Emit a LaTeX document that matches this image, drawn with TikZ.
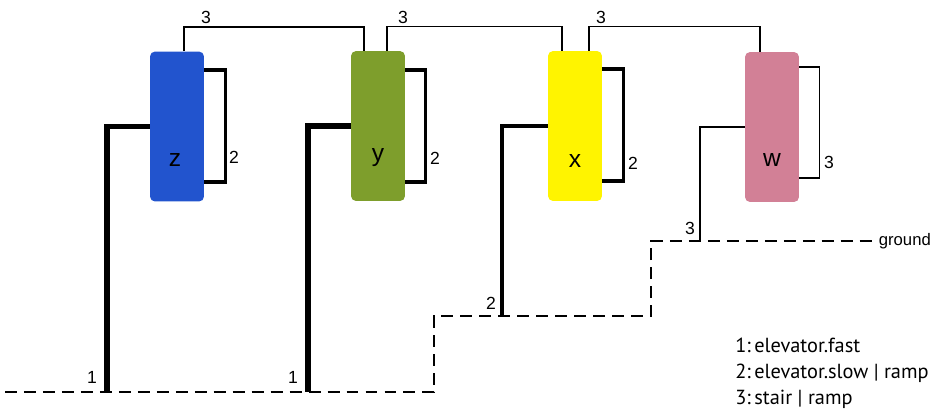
\documentclass[tikz,border=0pt]{standalone}
\usepackage{fontspec}
\setmainfont{Liberation Sans}
\newfontfamily\legendfont{PT Sans}
\definecolor{zblue}{RGB}{34,84,206}
\definecolor{ygreen}{RGB}{126,158,44}
\definecolor{xyellow}{RGB}{255,244,0}
\definecolor{wpink}{RGB}{210,128,150}
\begin{document}
\begin{tikzpicture}[
  x=0.02cm, y=-0.02cm,
  box/.style={
    rounded corners=0.1cm,
    minimum width=1.08cm,
    minimum height=3cm,
    inner sep=0pt
  },
  boxtext/.style={font=\fontsize{14}{14}\selectfont, inner sep=0pt},
  num/.style={font=\fontsize{10}{10}\selectfont, inner sep=0pt},
  fastline/.style={line width=3pt},
  slowline/.style={line width=2pt},
  stairline/.style={line width=0.8pt},
  groundline/.style={line width=1.1pt, dash pattern=on 6.8pt off 4pt}
]
\useasboundingbox (0,0) rectangle (938,414);

% floors
\node[box, fill=zblue] (z) at (177,126.5) {};
\node[box, fill=ygreen] (y) at (378,126) {};
\node[box, fill=xyellow] (x) at (575,126) {};
\node[box, fill=wpink] (w) at (772,127) {};
\node[boxtext] (zl) at (175,160) {z};
\node[boxtext] (yl) at (378,158) {y};
\node[boxtext] (xl) at (575,161) {x};
\node[boxtext] (wl) at (772,160) {w};

% ground levels
\coordinate (g0) at (5,392);
\coordinate (g1) at (107,392);
\coordinate (g2) at (308,392);
\coordinate (g3) at (434,392);
\coordinate (g4) at (434,316);
\coordinate (g5) at (502,316);
\coordinate (g6) at (651,316);
\coordinate (g7) at (651,241);
\coordinate (g8) at (700,241);
\coordinate (g9) at (875,241);
\draw[groundline] (g0) -- (g3) -- (g4) -- (g6) -- (g7) -- (g9);
\node[font=\fontsize{9.5}{10}\selectfont, anchor=west, inner sep=2pt] (gr) at (g9) {ground};

% links between floors
\draw[stairline] ([xshift=0.14cm]z.north) -- ++(0,-24) -| ([xshift=-0.28cm]y.north);
\draw[stairline] ([xshift=0.18cm]y.north) -- ++(0,-24) -| ([xshift=-0.26cm]x.north);
\draw[stairline] ([xshift=0.28cm]x.north) -- ++(0,-24) -| ([xshift=-0.24cm]w.north);
\node[num] (n1) at (206,17) {3};
\node[num] (n2) at (403,17) {3};
\node[num] (n3) at (601,17) {3};

% links within a floor
\draw[slowline] ([yshift=1.13cm]z.east) -- ++(21,0) |- ([yshift=-1.11cm]z.east);
\draw[slowline] ([yshift=1.12cm]y.east) -- ++(20,0) |- ([yshift=-1.12cm]y.east);
\draw[slowline] ([yshift=1.14cm]x.east) -- ++(21,0) |- ([yshift=-1.1cm]x.east);
\draw[stairline] ([yshift=1.2cm]w.east) -- ++(20,0) |- ([yshift=-1.02cm]w.east);
\node[num] (n4) at (234,157) {2};
\node[num] (n5) at (435,158) {2};
\node[num] (n6) at (633,163) {2};
\node[num] (n7) at (829,162) {3};

% links down to the ground
\draw[fastline] (z.west) -| (g1);
\draw[fastline] (y.west) -| (g2);
\draw[slowline] (x.west) -| (g5);
\draw[stairline] (w.west) -| (g8);
\node[num] (n8) at (92,377) {1};
\node[num] (n9) at (293,377) {1};
\node[num] (n10) at (491,303) {2};
\node[num] (n11) at (690,228) {3};

% legend
\node[font=\legendfont\fontsize{11.6}{14.8}\selectfont, align=left, anchor=north west, inner sep=0pt] (key) at (735,338)
  {1:\,elevator.fast\\2:\,elevator.slow | ramp\\3:\,stair | ramp};
\end{tikzpicture}
\end{document}
